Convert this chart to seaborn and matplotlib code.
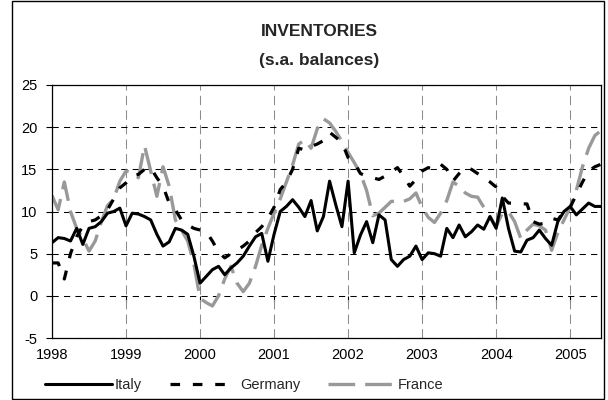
import matplotlib
matplotlib.use("Agg")
import matplotlib.pyplot as plt
from matplotlib.patches import Rectangle
import numpy as np
import pandas as pd
import seaborn as sns

# monthly s.a. balances, Jan 1998 - Jun 2005
years = [1998, 1999, 2000, 2001, 2002, 2003, 2004, 2005]

italy = [6.3, 6.9, 6.8, 6.5, 8.0, 6.1, 8.0, 8.2, 8.8, 9.8,
         10.0, 10.4, 8.3, 9.8, 9.7, 9.4, 9.0, 7.3, 5.9, 6.4,
         8.0, 7.8, 7.3, 4.7, 1.5, 2.3, 3.1, 3.5, 2.5, 3.3,
         3.9, 4.7, 5.9, 7.0, 7.4, 4.1, 7.3, 10.0, 10.6, 11.4,
         10.5, 9.4, 11.3, 7.7, 9.4, 13.6, 10.8, 8.2, 13.6, 5.1,
         7.2, 8.8, 6.3, 9.6, 9.0, 4.3, 3.5, 4.3, 4.7, 5.9,
         4.3, 5.1, 5.0, 4.7, 8.0, 6.9, 8.4, 7.0, 7.6, 8.4,
         7.9, 9.4, 8.0, 11.6, 8.0, 5.3, 5.2, 6.6, 6.9, 7.8,
         6.8, 6.0, 8.8, 10.0, 10.6, 9.6, 10.3, 11.0, 10.6, 10.6]

germany = [3.9, 3.9, 2.0, 5.0, 7.0, 8.3, 8.8, 9.0, 9.5, 10.2,
           11.5, 12.8, 13.4, 14.2, 14.4, 15.0, 15.2, 14.0, 13.0, 11.0,
           10.2, 9.0, 8.4, 8.0, 7.8, 7.6, 6.5, 5.2, 4.5, 5.0,
           5.4, 5.9, 6.5, 7.5, 8.2, 9.2, 10.5, 12.6, 13.5, 15.0,
           17.5, 17.3, 17.7, 18.0, 18.4, 19.4, 18.8, 18.2, 16.4, 15.8,
           14.5, 14.2, 14.0, 13.8, 14.2, 14.7, 15.2, 14.2, 13.0, 13.8,
           14.8, 15.2, 15.0, 15.6, 15.0, 13.6, 14.5, 15.2, 15.0, 14.5,
           14.0, 13.5, 12.9, 11.8, 11.0, 11.0, 10.9, 10.9, 8.8, 8.5,
           8.6, 9.2, 9.0, 10.0, 10.5, 12.0, 13.5, 14.8, 15.3, 15.6]

france = [11.9, 10.2, 13.5, 10.0, 8.0, 6.8, 5.3, 6.5, 8.8, 10.7,
          11.5, 13.6, 14.8, 14.6, 14.0, 17.8, 14.8, 11.8, 15.3, 13.0,
          9.0, 7.8, 6.5, 3.8, -0.3, -0.8, -1.2, 0.0, 2.0, 3.5,
          1.5, 0.5, 1.5, 3.5, 6.0, 8.0, 9.8, 11.5, 13.5, 15.5,
          18.0, 18.5, 17.5, 19.8, 21.0, 20.5, 19.5, 18.3, 17.0, 15.8,
          14.5, 12.5, 9.5, 9.8, 10.5, 11.2, 11.2, 11.2, 11.5, 12.2,
          10.5, 9.3, 8.7, 9.8, 11.3, 13.5, 13.0, 12.2, 11.8, 11.7,
          10.5, 9.4, 8.2, 9.8, 10.0, 8.8, 6.8, 7.8, 8.5, 8.3,
          7.8, 5.4, 7.5, 9.0, 10.5, 12.5, 15.3, 17.5, 19.0, 19.6]

month = np.arange(len(italy))
df = pd.DataFrame({"month": month, "Italy": italy, "Germany": germany, "France": france})

sns.set_theme(style="white")
plt.rcParams["font.family"] = ["Liberation Sans", "DejaVu Sans"]
plt.rcParams["axes.unicode_minus"] = False

fig = plt.figure(figsize=(6.08, 4.0), dpi=100)
ax = fig.add_axes([52 / 608, 62 / 400, 549 / 608, 253 / 400])

sns.lineplot(data=df, x="month", y="France", ax=ax, color="#999999", lw=2.4,
             linestyle=(0, (8, 3)), label="France", legend=False)
sns.lineplot(data=df, x="month", y="Germany", ax=ax, color="black", lw=2.3,
             linestyle=(0, (3, 4)), label="Germany", legend=False)
sns.lineplot(data=df, x="month", y="Italy", ax=ax, color="black", lw=2.2,
             label="Italy", legend=False)

ax.set_xlim(0, len(italy) - 1)
ax.set_ylim(-5, 25)
ax.set_yticks(range(-5, 30, 5))
ax.set_xticks(np.arange(len(years)) * 12)
ax.set_xticklabels([str(y) for y in years])
ax.set_xlabel("")
ax.set_ylabel("")

ax.set_axisbelow(True)
ax.yaxis.grid(True, color="black", lw=0.75, linestyle=(0, (6, 5)))
ax.xaxis.grid(True, color="#8c8c8c", lw=0.75, linestyle=(0, (9, 5)))
for s in ax.spines.values():
    s.set_color("black")
    s.set_linewidth(0.9)

ax.tick_params(axis="y", which="major", direction="out", length=4.5, width=0.8,
               color="black", left=True, pad=6, labelsize=10.5, labelcolor="black")
ax.tick_params(axis="x", which="major", length=0, pad=7, labelsize=10.5, labelcolor="black")

# tick marks where the category axis crosses zero
sec = ax.secondary_xaxis(1 / 6)
sec.set_xticks(np.arange(len(years)) * 12)
sec.tick_params(direction="out", length=4, width=0.8, color="black", labelbottom=False, labeltop=False)
for s in sec.spines.values():
    s.set_visible(False)

fig.text(319 / 608, 1 - 32 / 400, "INVENTORIES", ha="center", va="center",
         fontsize=12.5, fontweight="bold")
fig.text(319 / 608, 1 - 60 / 400, "(s.a. balances)", ha="center", va="center",
         fontsize=12.5, fontweight="bold")

handles, labels = ax.get_legend_handles_labels()
order = [labels.index(n) for n in ["Italy", "Germany", "France"]]
fig.legend([handles[i] for i in order], [labels[i] for i in order],
           loc="center left", bbox_to_anchor=(45 / 608, 1 - 385 / 400), ncol=3,
           frameon=False, handlelength=4.6, handletextpad=0.2, columnspacing=1.9,
           borderpad=0, borderaxespad=0, fontsize=10.5)

fig.patches.append(Rectangle((12 / 608, 1 / 400), 592 / 608, 398 / 400,
                             transform=fig.transFigure, fill=False, ec="black", lw=1.0))

fig.savefig("out.png", dpi=100, facecolor="white")
